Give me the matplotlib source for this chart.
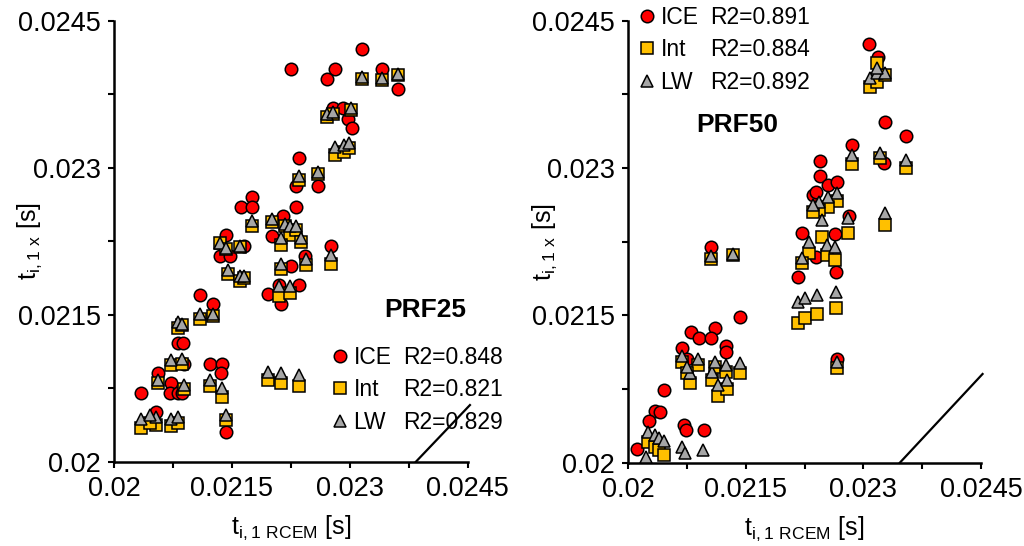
import matplotlib
matplotlib.use("Agg")
import matplotlib.pyplot as plt
from matplotlib.ticker import FuncFormatter
from matplotlib.lines import Line2D

plt.rcParams['font.family'] = ['Liberation Sans', 'DejaVu Sans']
plt.rcParams['mathtext.fontset'] = 'custom'
plt.rcParams['mathtext.rm'] = 'Liberation Sans'

# =========================
# PRF25 (painel esquerdo)
# =========================
prf25_ice_x = [0.02316, 0.02225, 0.02281, 0.02271, 0.02341, 0.02361, 0.02279, 0.02292, 0.02298, 0.02303,
               0.02235, 0.02232, 0.02259, 0.02232, 0.02175, 0.02161, 0.02176, 0.02201, 0.02215, 0.02276,
               0.02143, 0.02135, 0.02148, 0.02165, 0.02243, 0.02225, 0.02196, 0.02213, 0.02235, 0.02210,
               0.02109, 0.02126, 0.02082, 0.02088, 0.02089, 0.02056, 0.02073, 0.02071, 0.02082, 0.02087,
               0.02035, 0.02122, 0.02138, 0.02136, 0.02053, 0.02143]
prf25_ice_y = [0.02421, 0.02401, 0.02401, 0.02390, 0.02401, 0.02380, 0.02361, 0.02361, 0.02350, 0.02340,
               0.02310, 0.02281, 0.02281, 0.02260, 0.02270, 0.02260, 0.02260, 0.02230, 0.02251, 0.02220,
               0.02231, 0.02210, 0.02210, 0.02220, 0.02210, 0.02200, 0.02171, 0.02161, 0.02180, 0.02180,
               0.02170, 0.02161, 0.02121, 0.02121, 0.02100, 0.02091, 0.02080, 0.02070, 0.02070, 0.02070,
               0.02070, 0.02100, 0.02100, 0.02090, 0.02051, 0.02030]

prf25_x = [0.02341, 0.02316, 0.02361, 0.02271, 0.02279, 0.02302, 0.02281, 0.02293, 0.02299, 0.02235,
           0.02259, 0.02175, 0.02201, 0.02217, 0.02224, 0.02232, 0.02212, 0.02238, 0.02276, 0.02135,
           0.02143, 0.02160, 0.02244, 0.02212, 0.02145, 0.02160, 0.02165, 0.02210, 0.02224, 0.02109,
           0.02126, 0.02082, 0.02086, 0.02073, 0.02086, 0.02056, 0.02089, 0.02122, 0.02138, 0.02196,
           0.02212, 0.02235, 0.02035, 0.02053, 0.02073, 0.02082, 0.02143, 0.02046]
prf25_int = [0.02389, 0.02390, 0.02395, 0.02352, 0.02355, 0.02359, 0.02313, 0.02316, 0.02320, 0.02287,
             0.02294, 0.02240, 0.02245, 0.02240, 0.02231, 0.02236, 0.02221, 0.02224, 0.02202, 0.02223,
             0.02217, 0.02219, 0.02201, 0.02197, 0.02192, 0.02184, 0.02187, 0.02169, 0.02172, 0.02146,
             0.02149, 0.02136, 0.02139, 0.02099, 0.02100, 0.02080, 0.02074, 0.02077, 0.02066, 0.02083,
             0.02080, 0.02077, 0.02034, 0.02037, 0.02036, 0.02039, 0.02043, 0.02039]
prf25_lw = [0.02392, 0.02393, 0.02396, 0.02355, 0.02357, 0.02361, 0.02321, 0.02323, 0.02325, 0.02292,
            0.02296, 0.02246, 0.02248, 0.02243, 0.02240, 0.02240, 0.02228, 0.02228, 0.02211, 0.02223,
            0.02218, 0.02220, 0.02207, 0.02202, 0.02196, 0.02189, 0.02189, 0.02179, 0.02179, 0.02151,
            0.02151, 0.02143, 0.02141, 0.02104, 0.02105, 0.02083, 0.02078, 0.02083, 0.02075, 0.02092,
            0.02090, 0.02088, 0.02044, 0.02046, 0.02044, 0.02046, 0.02048, 0.02048]

prf25_line_x = [0.023842, 0.024529]
prf25_line_y = [0.020000, 0.020578]
prf25_r2 = ['R2=0.848', 'R2=0.821', 'R2=0.829']

# =========================
# PRF50 (painel direito)
# =========================
prf50_ice_x = [0.02307, 0.02318, 0.02328, 0.02354, 0.02285, 0.02326, 0.022445, 0.022445, 0.022543, 0.022658,
               0.02236, 0.0224, 0.02281, 0.022212, 0.022636, 0.0224, 0.022168, 0.022645, 0.022658, 0.02105,
               0.02142, 0.0208, 0.0209, 0.0211, 0.02105, 0.02068, 0.02124, 0.02124, 0.02075, 0.02046,
               0.02034, 0.0204, 0.02026, 0.02071, 0.02074, 0.02096, 0.02011]
prf50_ice_y = [0.02426, 0.02413, 0.02347, 0.02333, 0.02323, 0.02305, 0.023075, 0.022919, 0.022828, 0.022855,
               0.02273, 0.02276, 0.02251, 0.022342, 0.022329, 0.022098, 0.021894, 0.021945, 0.021053, 0.0222,
               0.02148, 0.02133, 0.02127, 0.02137, 0.02127, 0.02117, 0.02119, 0.02113, 0.02106, 0.02074,
               0.02053, 0.02052, 0.02042, 0.02038, 0.02033, 0.02033, 0.02014]

prf50_x = [0.023083, 0.023179, 0.023269, 0.023176, 0.022849, 0.02321, 0.023542, 0.023274, 0.022666, 0.022551,
           0.022436, 0.02236, 0.022467, 0.022806, 0.022309, 0.022531, 0.022637, 0.022212, 0.022168, 0.022254,
           0.022411, 0.022645, 0.022658, 0.02105, 0.02134, 0.020681, 0.020893, 0.020787, 0.020745, 0.021064,
           0.021106, 0.021246, 0.021425, 0.021148, 0.021259, 0.020255, 0.020341, 0.020392, 0.020459, 0.02068,
           0.02072, 0.020949, 0.020222]
prf50_int = [0.023829, 0.02388, 0.023948, 0.024067, 0.023042, 0.0231, 0.022998, 0.022421, 0.022668, 0.022607,
             0.022573, 0.022556, 0.022301, 0.022336, 0.022132, 0.022115, 0.022064, 0.022037, 0.021426, 0.02147,
             0.021511, 0.021572, 0.020961, 0.02207, 0.02211, 0.021029, 0.020995, 0.020809, 0.02091, 0.020842,
             0.020978, 0.020927, 0.020917, 0.020682, 0.020747, 0.020214, 0.020163, 0.020129, 0.020078, 0.0197,
             0.0197, 0.0197, 0.0197]
prf50_lw = [0.023914, 0.023971, 0.023965, 0.02402, 0.023133, 0.023151, 0.023082, 0.02254, 0.022749, 0.022709,
            0.022658, 0.022624, 0.022471, 0.022489, 0.02225, 0.022217, 0.0222, 0.022081, 0.02164, 0.021674,
            0.021708, 0.021741, 0.021029, 0.0221, 0.02212, 0.021087, 0.021053, 0.02091, 0.020978, 0.020927,
            0.021029, 0.020995, 0.021012, 0.020791, 0.020842, 0.020316, 0.020282, 0.020248, 0.020224, 0.020163,
            0.020096, 0.020129, 0.020055]

prf50_line_x = [0.023465, 0.024520]
prf50_line_y = [0.020000, 0.020903]
prf50_r2 = ['R2=0.891', 'R2=0.884', 'R2=0.892']

series_names = ['ICE', 'Int', 'LW']
ax_min, ax_max = 0.02, 0.0245
major_ticks = [0.02, 0.0215, 0.023, 0.0245]
minor_ticks = [0.02075, 0.02225, 0.02375]

# =========================
# Grafico
# =========================
fig = plt.figure(figsize=(10.24, 5.46), dpi=100)
ax1 = fig.add_axes([0.1113, 0.1544, 0.3454, 0.8077])
ax2 = fig.add_axes([0.6136, 0.1526, 0.3444, 0.8095])

panels = [
    (ax1, prf25_ice_x, prf25_ice_y, prf25_x, prf25_int, prf25_lw, prf25_line_x, prf25_line_y,
     prf25_r2, 'PRF25', (0.879, 0.344), (0.619, 0.1626)),
    (ax2, prf50_ice_x, prf50_ice_y, prf50_x, prf50_int, prf50_lw, prf50_line_x, prf50_line_y,
     prf50_r2, 'PRF50', (0.308, 0.764), (0.0326, 0.9337)),
]

ms = 9
mew = 1.1
fmt = FuncFormatter(lambda v, p: '%g' % round(v, 5))
for ax, ix, iy, mx, yint, ylw, lx, ly, r2, name, tpos, lpos in panels:
    ax.plot(lx, ly, color='black', lw=1.6, clip_on=False, zorder=1)
    h1, = ax.plot(ix, iy, 'o', ms=ms, mfc='#FF0000', mec='black', mew=mew, zorder=2)
    h2, = ax.plot(mx, yint, 's', ms=ms, mfc='#FFC000', mec='black', mew=mew, zorder=3)
    h3, = ax.plot(mx, ylw, '^', ms=ms, mfc='#A6A6A6', mec='black', mew=mew, zorder=4)

    ax.set_xlim(ax_min, ax_max)
    ax.set_ylim(ax_min, ax_max)
    for s in ['top', 'right']:
        ax.spines[s].set_visible(False)
    for s in ['left', 'bottom']:
        ax.spines[s].set_linewidth(1.8)
    ax.set_xticks(major_ticks)
    ax.set_yticks(major_ticks)
    ax.set_xticks(minor_ticks, minor=True)
    ax.set_yticks(minor_ticks, minor=True)
    ax.xaxis.set_major_formatter(fmt)
    ax.yaxis.set_major_formatter(fmt)
    ax.tick_params(which='both', direction='out', length=4.5, width=1.5, labelsize=19.5)
    ax.tick_params(axis='y', pad=5)
    ax.tick_params(axis='x', pad=6)

    ax.set_xlabel(r'$\mathrm{t_{i,1\ RCEM}}$ [s]', fontsize=18, va='center')
    ax.set_ylabel(r'$\mathrm{t_{i,1\ x}}$ [s]', fontsize=18, va='center')
    ax.xaxis.set_label_coords(0.5, -0.15)
    ax.yaxis.set_label_coords(-0.237, 0.5)

    ax.text(tpos[0], tpos[1], name, transform=ax.transAxes, fontsize=19,
            fontweight='bold', ha='center', va='center')

    blank = Line2D([], [], linestyle='none', marker=None)
    ax.legend([h1, h2, h3, blank, blank, blank], series_names + r2, ncol=2,
              loc='center left', bbox_to_anchor=lpos, frameon=False, fontsize=16.5,
              handlelength=0.6, handletextpad=0.3, columnspacing=-0.4,
              labelspacing=0.42, borderpad=0, borderaxespad=0)

plt.savefig('out.png', dpi=100)
